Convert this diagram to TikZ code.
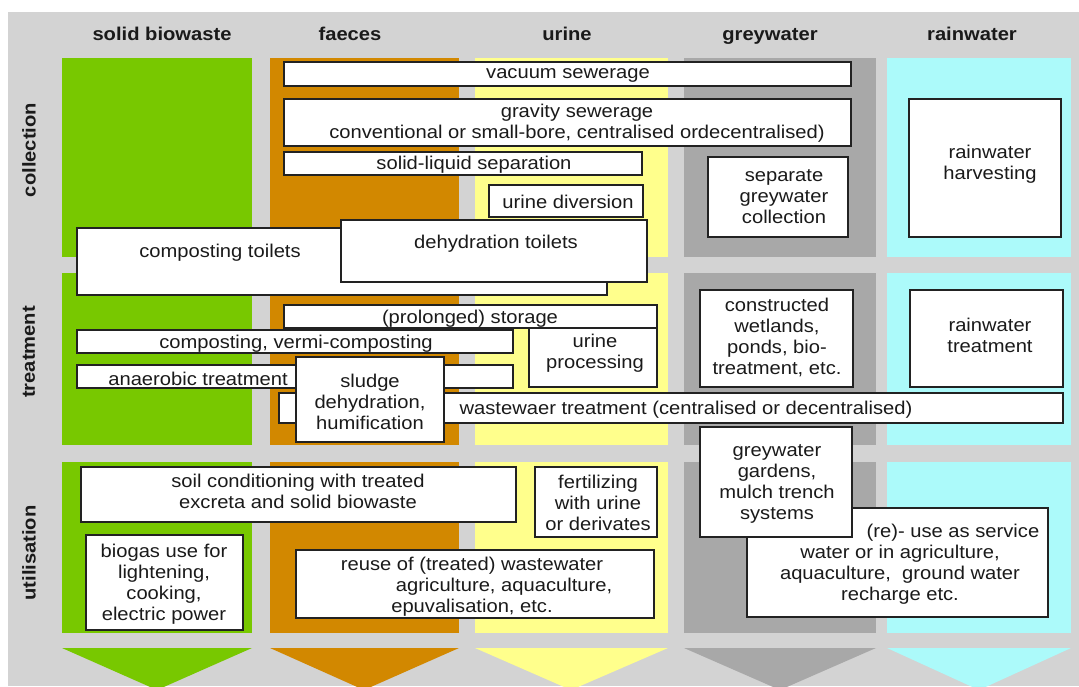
\documentclass[tikz,border=0pt]{standalone}
\usepackage{fontspec}
\setmainfont{Liberation Sans}[FakeStretch=1.09]
\usetikzlibrary{fit}
\definecolor{bgc}{HTML}{D3D3D3}
\definecolor{grn}{RGB}{120,200,0}
\definecolor{org}{RGB}{210,136,0}
\definecolor{ylw}{RGB}{255,255,140}
\definecolor{gry}{RGB}{168,168,168}
\definecolor{cyn}{RGB}{172,250,250}
\definecolor{boxc}{HTML}{222222}
\definecolor{txtc}{HTML}{1A1A1A}
\begin{document}
\begin{tikzpicture}[x=1pt,y=-1pt,
  box/.style={draw=boxc, line width=1.3pt, fill=white, inner sep=0pt, outer sep=0pt},
  txt/.style={text=txtc, align=center, inner sep=0pt, yshift=-1.5pt, font=\fontsize{18.5}{21}\selectfont},
  hdr/.style={text=txtc, inner sep=0pt, font=\fontsize{18.5}{21}\selectfont\bfseries},
  panel/.style={draw=none}]
\useasboundingbox (0,0) rectangle (1079,686);
\fill[white] (0,0) rectangle (1079,686);
\fill[bgc] (8,12) rectangle (1079,686);
% column panels
\foreach \ya/\yb in {58/257,273/445,462/633}{
  \fill[grn] (62,\ya) rectangle (252,\yb);
  \fill[org] (270,\ya) rectangle (459,\yb);
  \fill[ylw] (475,\ya) rectangle (668,\yb);
  \fill[gry] (684,\ya) rectangle (876,\yb);
  \fill[cyn] (887,\ya) rectangle (1071,\yb);
}
% bottom arrows
\fill[grn] (62,648) -- (252,648) -- (157,690) -- cycle;
\fill[org] (270,648) -- (459,648) -- (364,690) -- cycle;
\fill[ylw] (475,648) -- (668,648) -- (571,690) -- cycle;
\fill[gry] (684,648) -- (876,648) -- (780,690) -- cycle;
\fill[cyn] (887,648) -- (1071,648) -- (979,690) -- cycle;
% headers
\node[hdr, anchor=base] (h1) at (162,40) {solid biowaste};
\node[hdr, anchor=base] (h2) at (350,40) {faeces};
\node[hdr, anchor=base] (h3) at (567,40) {urine};
\node[hdr, anchor=base] (h4) at (770,40) {greywater};
\node[hdr, anchor=base] (h5) at (972,40) {rainwater};
\node[hdr, rotate=90] (r1) at (29,150) {collection};
\node[hdr, rotate=90] (r2) at (29,352) {treatment};
\node[hdr, rotate=90] (r3) at (29,553) {utilisation};
% collection
\node[box, fit={(284,62) (851,86)}] (vac) {};
\node[txt] (vac-t) at (568,74) {vacuum sewerage};
\node[box, fit={(284,99) (851,146)}] (grav) {};
\node[txt] (grav-t) at (577,122) {gravity sewerage\\conventional or small-bore, centralised ordecentralised)};
\node[box, fit={(284,152) (642,175)}] (sls) {};
\node[txt] (sls-t) at (474,163) {solid-liquid separation};
\node[box, fit={(489,185) (643,217)}] (udiv) {};
\node[txt] (udiv-t) at (568,200) {urine diversion};
\node[box, fit={(708,157) (848,237)}] (sgc) {};
\node[txt] (sgc-t) at (784,195) {separate\\greywater\\collection};
\node[box, fit={(909,99) (1061,237)}] (rwh) {};
\node[txt] (rwh-t) at (990,163) {rainwater\\harvesting};
\node[box, fit={(77,228) (607,295)}] (ctoil) {};
\node[txt] (ctoil-t) at (220,251) {composting toilets};
\node[box, fit={(341,220) (647,282)}] (dtoil) {};
\node[txt] (dtoil-t) at (496,242) {dehydration toilets};
% treatment
\node[box, fit={(284,305) (657,328)}] (stor) {};
\node[txt] (stor-t) at (470,317) {(prolonged) storage};
\node[box, fit={(529,328) (657,387)}] (uproc) {};
\node[txt] (uproc-t) at (595,352) {urine\\processing};
\node[box, fit={(77,330) (513,353)}] (comp) {};
\node[txt] (comp-t) at (296,342) {composting, vermi-composting};
\node[box, fit={(77,365) (513,388)}] (anae) {};
\node[txt] (anae-t) at (198,377) {anaerobic treatment};
\node[box, fit={(279,393) (1063,423)}] (wwt) {};
\node[txt] (wwt-t) at (686,408) {wastewaer treatment (centralised or decentralised)};
\node[box, fit={(296,357) (444,442)}] (sludge) {};
\node[txt] (sludge-t) at (370,400) {sludge\\dehydration,\\humification};
\node[box, fit={(700,290) (853,387)}] (cw) {};
\node[txt] (cw-t) at (777,336) {constructed\\wetlands,\\ponds, bio-\\treatment, etc.};
\node[box, fit={(910,290) (1063,387)}] (rwt) {};
\node[txt] (rwt-t) at (990,334) {rainwater\\treatment};
% utilisation
\node[box, fit={(81,467) (516,522)}] (soil) {};
\node[txt] (soil-t) at (298,490) {soil conditioning with treated\\excreta and solid biowaste};
\node[box, fit={(535,467) (657,537)}] (fert) {};
\node[txt] (fert-t) at (598,501) {fertilizing\\with urine\\or derivates};
\node[box, fit={(86,535) (243,630)}] (bio) {};
\node[txt] (bio-t) at (164,583) {biogas use for\\lightening,\\cooking,\\electric power};
\node[box, fit={(296,550) (654,618)}] (rww) {};
\node[txt] (rww-t) at (472,585) {reuse of (treated) wastewater\\\hspace*{64pt}agriculture, aquaculture,\\epuvalisation, etc.};
\node[box, fit={(747,508) (1048,617)}] (reuse) {};
\node[txt] (reuse-t) at (900,563) {\hspace*{106pt}(re)- use as service\\water or in agriculture,\\aquaculture,\ \ ground water\\recharge etc.};
\node[box, fit={(700,427) (852,537)}] (gg) {};
\node[txt] (gg-t) at (777,482) {greywater\\gardens,\\mulch trench\\systems};
\end{tikzpicture}
\end{document}
